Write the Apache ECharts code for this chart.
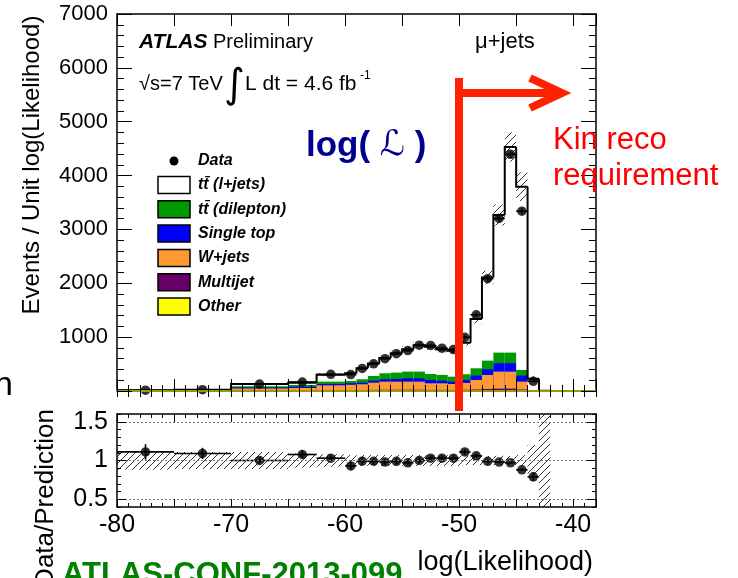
<!DOCTYPE html>
<html>
<head>
<meta charset="utf-8">
<script src="https://cdn.jsdelivr.net/npm/echarts@6/dist/echarts.min.js"></script>
<style>
html,body{margin:0;padding:0;background:#fff;overflow:hidden}
#c{width:738px;height:578px}
</style>
</head>
<body>
<div id="c"></div>
<script>
// Bin edges in log(Likelihood)
const binEdges = [-80, -75, -70, -65, -62.5, -60, -59, -58, -57, -56, -55, -54, -53, -52, -51, -50, -49, -48, -47, -46, -45, -44, -43, -42];

// Expected events per unit log(Likelihood), stacked bottom to top
const other     = [1, 2, 4, 5, 6, 6, 6, 7, 8, 8, 8, 8, 7, 7, 7, 8, 10, 14, 16, 16, 10, 1, 0.3];
const multijet  = [1, 2, 6, 7, 10, 10, 12, 14, 16, 16, 16, 16, 14, 14, 13, 15, 18, 24, 28, 28, 18, 1, 0.2];
const wJets     = [3, 4, 35, 44, 90, 99, 107, 134, 150, 150, 150, 150, 122, 122, 110, 127, 177, 260, 316, 316, 146, 3, 0.5];
const singleTop = [1, 2, 20, 24, 24, 30, 30, 37, 44, 51, 62, 62, 62, 49, 44, 55, 80, 106, 156, 156, 111, 3, 0.5];
const ttDilep   = [2, 4, 25, 32, 44, 40, 63, 87, 111, 116, 124, 124, 111, 106, 92, 106, 137, 160, 197, 197, 106, 4, 0.5];
const ttLjets   = [5.5, 8, 38, 43, 126, 143, 206, 231, 283, 358, 413, 490, 504, 474, 482, 587, 913, 1543, 2555, 3818, 3403, 216, 1];

// Relative uncertainty on the prediction
const mcRelUnc = [0.12, 0.11, 0.11, 0.09, 0.08, 0.07, 0.07, 0.07, 0.07, 0.07, 0.07, 0.07, 0.07, 0.07, 0.07, 0.06, 0.06, 0.06, 0.06, 0.06, 0.07, 0.2, 5];

// Observed data and its statistical error (events per unit)
const dataVals = [15, 24, 128, 167, 309, 305, 420, 505, 600, 692, 750, 850, 845, 795, 770, 997, 1415, 2086, 3203, 4395, 3339, 180, null];
const dataErr  = [1.35, 1.6, 5, 8, 11, 17, 20, 22, 24, 26, 27, 29, 29, 28, 28, 32, 38, 46, 57, 66, 58, 13, null];

const mainYTicks = [1000, 2000, 3000, 4000, 5000, 6000, 7000];
const ratioYTicks = [0.5, 1, 1.5];
const xTickLabels = [-80, -70, -60, -50, -40];

const stackLayers = [other, multijet, wJets, singleTop, ttDilep, ttLjets];
const stackColors = ['#ffff00', '#660066', '#ff9933', '#0000ff', '#009900', '#ffffff'];
const legendItems = [
  ['tt\u0304 (l+jets)', '#ffffff'],
  ['tt\u0304 (dilepton)', '#009900'],
  ['Single top', '#0000ff'],
  ['W+jets', '#ff9933'],
  ['Multijet', '#660066'],
  ['Other', '#ffff00']
];

const FONT = '"Liberation Sans", Arial, Helvetica, sans-serif';
const nBins = binEdges.length - 1;
const totals = [];
for (let i = 0; i < nBins; i++) {
  let s = 0;
  stackLayers.forEach(l => { s += l[i]; });
  totals.push(s);
}

// diagonal hatch fill for the uncertainty bands
function makeHatch() {
  const c = document.createElement('canvas');
  c.width = 7; c.height = 7;
  const g = c.getContext('2d');
  g.strokeStyle = '#333';
  g.lineWidth = 1;
  g.beginPath();
  g.moveTo(0, 7); g.lineTo(7, 0);
  g.moveTo(-1, 1); g.lineTo(1, -1);
  g.moveTo(6, 8); g.lineTo(8, 6);
  g.stroke();
  return c;
}
const hatchFill = { image: makeHatch(), repeat: 'repeat' };

// rows for the custom series
const stackRows = [], mainBandRows = [], outlineRows = [], dataRows = [], ratioBandRows = [], ratioRows = [];
for (let i = 0; i < nBins; i++) {
  const lo = binEdges[i], hi = binEdges[i + 1];
  const cum = [];
  let s = 0;
  stackLayers.forEach(l => { s += l[i]; cum.push(s); });
  stackRows.push([lo, hi].concat(cum));
  mainBandRows.push([lo, hi, Math.max(0, totals[i] * (1 - mcRelUnc[i])), totals[i] * (1 + mcRelUnc[i])]);
  outlineRows.push([lo, hi, totals[i], i === 0 ? 0 : totals[i - 1], i === nBins - 1 ? 1 : 0]);
  ratioBandRows.push([lo, hi, 1 - mcRelUnc[i], 1 + mcRelUnc[i]]);
  if (dataVals[i] !== null) {
    const c = (lo + hi) / 2;
    dataRows.push([c, dataVals[i], lo, hi, dataErr[i]]);
    ratioRows.push([c, dataVals[i] / totals[i], lo, hi, dataErr[i] / totals[i]]);
  }
}

function renderStack(params, api) {
  const lo = api.value(0), hi = api.value(1);
  const kids = [];
  // draw cumulative rectangles from the top layer down
  for (let k = stackLayers.length - 1; k >= 0; k--) {
    const top = api.value(2 + k);
    const p0 = api.coord([lo, top]);
    const p1 = api.coord([hi, 0]);
    kids.push({
      type: 'rect',
      shape: { x: p0[0], y: p0[1], width: p1[0] - p0[0] + 0.6, height: p1[1] - p0[1] },
      style: { fill: stackColors[k] }
    });
  }
  return { type: 'group', children: kids };
}

function renderBand(params, api) {
  const p0 = api.coord([api.value(0), api.value(3)]);
  const p1 = api.coord([api.value(1), api.value(2)]);
  return {
    type: 'rect',
    shape: { x: p0[0], y: p0[1], width: p1[0] - p0[0], height: p1[1] - p0[1] },
    style: { fill: hatchFill, stroke: null }
  };
}

function renderOutline(params, api) {
  const lo = api.value(0), hi = api.value(1), v = api.value(2), prev = api.value(3), last = api.value(4);
  const pts = [api.coord([lo, prev]), api.coord([lo, v]), api.coord([hi, v])];
  if (last) pts.push(api.coord([hi, 0]));
  return {
    type: 'polyline',
    shape: { points: pts },
    style: { stroke: '#000', lineWidth: 2, fill: null }
  };
}

function renderErr(params, api) {
  const c = api.value(0), v = api.value(1), lo = api.value(2), hi = api.value(3), e = api.value(4);
  const a = api.coord([lo, v]), b = api.coord([hi, v]);
  const t = api.coord([c, v + e]), d = api.coord([c, v - e]);
  return {
    type: 'group',
    children: [
      { type: 'line', shape: { x1: a[0], y1: a[1], x2: b[0], y2: b[1] }, style: { stroke: '#000', lineWidth: 1.6 } },
      { type: 'line', shape: { x1: t[0], y1: t[1], x2: d[0], y2: d[1] }, style: { stroke: '#000', lineWidth: 1.6 } }
    ]
  };
}

function xAxisDef(grid, pos, interval, len, opts) {
  return Object.assign({
    type: 'value', gridIndex: grid, position: pos, min: -80, max: -38, interval: interval,
    z: 5,
    axisLine: { show: true, onZero: false, lineStyle: { color: '#000', width: 1.5 } },
    axisTick: { show: true, inside: true, length: len, lineStyle: { color: '#000', width: 1 } },
    axisLabel: { show: false },
    splitLine: { show: false }
  }, opts || {});
}

const chart = echarts.init(document.getElementById('c'), null, { renderer: 'canvas' });

const option = {
  animation: false,
  backgroundColor: '#ffffff',
  grid: [
    { left: 117, top: 14, width: 479, height: 377 },
    { left: 117, top: 414, width: 479, height: 93 }
  ],
  xAxis: [
    xAxisDef(0, 'bottom', 5, 12, { axisLine: { show: true, onZero: false, lineStyle: { color: '#9a9a10', width: 2 } } }),
    xAxisDef(0, 'bottom', 1, 6, { axisLine: { show: false } }),
    xAxisDef(0, 'top', 5, 12),
    xAxisDef(0, 'top', 1, 6, { axisLine: { show: false } }),
    xAxisDef(1, 'bottom', 5, 8, {
      axisLabel: {
        show: true, margin: 6, color: '#000', fontSize: 25, fontFamily: FONT,
        formatter: v => (xTickLabels.indexOf(v) >= 0 ? String(v) : '')
      }
    }),
    xAxisDef(1, 'bottom', 1, 4, { axisLine: { show: false } }),
    xAxisDef(1, 'top', 5, 8),
    xAxisDef(1, 'top', 1, 4, { axisLine: { show: false } })
  ],
  yAxis: [
    {
      type: 'value', gridIndex: 0, position: 'left', min: 0, max: 7000, interval: 1000, z: 5,
      axisLine: { show: true, onZero: false, lineStyle: { color: '#000', width: 1.5 } },
      axisTick: { show: true, inside: true, length: 15, lineStyle: { color: '#000', width: 1 } },
      minorTick: { show: true, splitNumber: 5, length: 7, lineStyle: { color: '#000', width: 1 } },
      axisLabel: {
        show: true, margin: 9, color: '#000', fontSize: 22, fontFamily: FONT,
        formatter: v => (mainYTicks.indexOf(v) >= 0 ? String(v) : '')
      },
      splitLine: { show: false }
    },
    {
      type: 'value', gridIndex: 0, position: 'right', min: 0, max: 7000, interval: 1000, z: 5,
      axisLine: { show: true, onZero: false, lineStyle: { color: '#000', width: 1.5 } },
      axisTick: { show: true, inside: true, length: 15, lineStyle: { color: '#000', width: 1 } },
      minorTick: { show: true, splitNumber: 5, length: 7, lineStyle: { color: '#000', width: 1 } },
      axisLabel: { show: false },
      splitLine: { show: false }
    },
    {
      type: 'value', gridIndex: 1, position: 'left', min: 0.4, max: 1.6, interval: 0.1, z: 5,
      axisLine: { show: true, onZero: false, lineStyle: { color: '#000', width: 1.5 } },
      axisTick: { show: true, inside: true, length: 4, lineStyle: { color: '#000', width: 1 } },
      axisLabel: {
        show: true, margin: 9, color: '#000', fontSize: 25, fontFamily: FONT,
        formatter: v => {
          const hit = ratioYTicks.find(t => Math.abs(t - v) < 1e-6);
          return hit === undefined ? '' : String(hit);
        }
      },
      splitLine: { show: false }
    },
    {
      type: 'value', gridIndex: 1, position: 'left', min: 0.4, max: 1.6, z: 5,
      axisLine: { show: false },
      axisTick: { show: true, inside: true, length: 9, customValues: ratioYTicks, lineStyle: { color: '#000', width: 1 } },
      axisLabel: { show: false },
      splitLine: { show: false }
    },
    {
      type: 'value', gridIndex: 1, position: 'right', min: 0.4, max: 1.6, interval: 0.1, z: 5,
      axisLine: { show: true, onZero: false, lineStyle: { color: '#000', width: 1.5 } },
      axisTick: { show: true, inside: true, length: 4, lineStyle: { color: '#000', width: 1 } },
      axisLabel: { show: false },
      splitLine: { show: false }
    },
    {
      type: 'value', gridIndex: 1, position: 'right', min: 0.4, max: 1.6, z: 5,
      axisLine: { show: false },
      axisTick: { show: true, inside: true, length: 9, customValues: ratioYTicks, lineStyle: { color: '#000', width: 1 } },
      axisLabel: { show: false },
      splitLine: { show: false }
    }
  ],
  series: [
    {
      name: 'stack', type: 'custom', xAxisIndex: 0, yAxisIndex: 0, z: 2,
      renderItem: renderStack, data: stackRows, clip: true,
      encode: { x: [0, 1], y: [2] }
    },
    {
      name: 'mc unc', type: 'custom', xAxisIndex: 0, yAxisIndex: 0, z: 3,
      renderItem: renderBand, data: mainBandRows, clip: true,
      encode: { x: [0, 1], y: [2, 3] }
    },
    {
      name: 'mc total', type: 'custom', xAxisIndex: 0, yAxisIndex: 0, z: 3,
      renderItem: renderOutline, data: outlineRows, clip: true,
      encode: { x: [0, 1], y: [2] }
    },
    {
      name: 'data err', type: 'custom', xAxisIndex: 0, yAxisIndex: 0, z: 4,
      renderItem: renderErr, data: dataRows, clip: false,
      encode: { x: 0, y: 1 }
    },
    {
      name: 'Data', type: 'scatter', xAxisIndex: 0, yAxisIndex: 0, z: 4,
      symbol: 'circle', symbolSize: 9.5, itemStyle: { color: '#000' },
      data: dataRows.map(r => [r[0], r[1]])
    },
    {
      name: 'ratio unc', type: 'custom', xAxisIndex: 4, yAxisIndex: 2, z: 2,
      renderItem: renderBand, data: ratioBandRows, clip: true,
      encode: { x: [0, 1], y: [2, 3] },
      markLine: {
        silent: true, symbol: 'none', animation: false,
        label: { show: false },
        lineStyle: { color: '#777', type: [2, 2], width: 1 },
        data: ratioYTicks.map(v => ({ yAxis: v }))
      }
    },
    {
      name: 'ratio err', type: 'custom', xAxisIndex: 4, yAxisIndex: 2, z: 4,
      renderItem: renderErr, data: ratioRows, clip: true,
      encode: { x: 0, y: 1 }
    },
    {
      name: 'ratio', type: 'scatter', xAxisIndex: 4, yAxisIndex: 2, z: 4,
      symbol: 'circle', symbolSize: 9.5, itemStyle: { color: '#000' },
      data: ratioRows.map(r => [r[0], r[1]])
    }
  ],
  graphic: []
};

const g = option.graphic;
function txt(x, y, text, font, color, extra) {
  g.push(Object.assign({
    type: 'text', x: x, y: y, z: 50,
    style: { text: text, font: font, fill: color || '#000', align: 'left', verticalAlign: 'middle' }
  }, extra || {}));
}

// header text
txt(139, 42, 'ATLAS', 'italic bold 21px ' + FONT);
txt(213, 42, 'Preliminary', '20px ' + FONT);
txt(475, 42, '\u03bc+jets', '22px ' + FONT);
txt(139, 84, '\u221as=7 TeV', '20px ' + FONT);
txt(224, 87, '\u222b', '40px "DejaVu Sans", ' + FONT);
txt(245, 84, 'L dt = 4.6 fb', '21px ' + FONT);
txt(360, 76, '-1', '12px ' + FONT);

// legend
g.push({ type: 'circle', z: 50, shape: { cx: 174, cy: 161, r: 4.5 }, style: { fill: '#000' } });
txt(198, 161, 'Data', 'italic bold 16px ' + FONT);
legendItems.forEach((it, i) => {
  const cy = 185 + i * 24.3;
  g.push({ type: 'rect', z: 50, shape: { x: 158, y: cy - 8.5, width: 32, height: 17 }, style: { fill: it[1], stroke: '#000', lineWidth: 1.5 } });
  txt(198, cy, it[0], 'italic bold 16px ' + FONT);
});

// variable label
g.push({
  type: 'text', x: 306, y: 146, z: 50,
  style: {
    text: '{a|log( }{b|\u2112}{a| )}',
    verticalAlign: 'middle',
    rich: {
      a: { font: 'bold 35px ' + FONT, fill: '#00008f' },
      b: { font: 'italic 35px "DejaVu Serif", "DejaVu Sans", serif', fill: '#00008f' }
    }
  }
});

// kinematic reconstruction cut
const RED = '#ff2200';
g.push({ type: 'polyline', z: 60, shape: { points: [[459, 78], [459, 411]] }, style: { stroke: RED, lineWidth: 8, fill: null } });
g.push({ type: 'polyline', z: 60, shape: { points: [[459, 93], [558, 93]] }, style: { stroke: RED, lineWidth: 8, fill: null } });
g.push({ type: 'polyline', z: 60, shape: { points: [[530, 78], [562, 93], [530, 108]] }, style: { stroke: RED, lineWidth: 8, fill: null, lineJoin: 'miter' } });
txt(553, 140, 'Kin reco', '31px ' + FONT, '#ff0000');
txt(553, 176, 'requirement', '31px ' + FONT, '#ff0000');

// axis titles
g.push({
  type: 'text', x: 32, y: 165, z: 50, rotation: Math.PI / 2,
  style: { text: 'Events / Unit log(Likelihood)', font: '24px ' + FONT, fill: '#000', align: 'center', verticalAlign: 'middle' }
});
g.push({
  type: 'text', x: 46, y: 498, z: 50, rotation: Math.PI / 2,
  style: { text: 'Data/Prediction', font: '26px ' + FONT, fill: '#000', align: 'center', verticalAlign: 'middle' }
});
g.push({
  type: 'text', x: 593, y: 563, z: 50,
  style: { text: 'log(Likelihood)', font: '27px ' + FONT, fill: '#000', align: 'right', verticalAlign: 'middle' }
});

// slide text around the figure
g.push({
  type: 'text', x: 62, y: 575, z: 40,
  style: { text: 'ATLAS-CONF-2013-099', font: 'bold 31px ' + FONT, fill: '#008000', align: 'left', verticalAlign: 'middle' }
});
g.push({
  type: 'text', x: -6, y: 386, z: 40,
  style: { text: 'n', font: '34px ' + FONT, fill: '#000', align: 'left', verticalAlign: 'middle' }
});

chart.setOption(option);
</script>
</body>
</html>
